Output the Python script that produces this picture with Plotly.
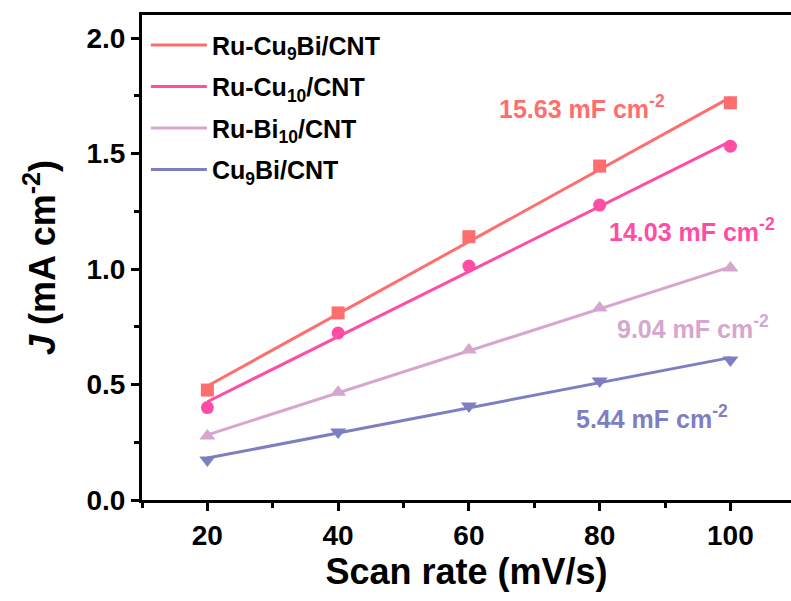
import numpy as np
import plotly.graph_objects as go

scan_rate = [20, 40, 60, 80, 100]
j_rucu9bi = [0.476, 0.81, 1.14, 1.446, 1.72]
j_rucu10 = [0.40, 0.723, 1.013, 1.277, 1.532]
j_rubi10 = [0.277, 0.467, 0.649, 0.831, 1.004]
j_cu9bi = [0.173, 0.294, 0.407, 0.515, 0.606]

names = ["Ru-Cu<sub>9</sub>Bi/CNT", "Ru-Cu<sub>10</sub>/CNT", "Ru-Bi<sub>10</sub>/CNT", "Cu<sub>9</sub>Bi/CNT"]
colors = ["#FF6E6E", "#FF4DA6", "#D6A6CF", "#7E7EC2"]
symbols = ["square", "circle", "triangle-up", "triangle-down"]
cdl_labels = ["15.63 mF cm<sup>-2</sup>", "14.03 mF cm<sup>-2</sup>", "9.04 mF cm<sup>-2</sup>", "5.44 mF cm<sup>-2</sup>"]
label_x = [77.3, 94.1, 94.3, 88.0]
label_y = [1.70, 1.17, 0.75, 0.36]

series = [j_rucu9bi, j_rucu10, j_rubi10, j_cu9bi]
FONT = "Liberation Sans, Arial, sans-serif"

fig = go.Figure()
x = np.array(scan_rate, dtype=float)
for i, ys in enumerate(series):
    k, b = np.polyfit(x, np.array(ys), 1)
    xf = np.array([x.min(), x.max()])
    fig.add_trace(go.Scatter(x=xf, y=k * xf + b, mode="lines", name=names[i],
                             line=dict(color=colors[i], width=3), legendgroup=str(i)))
    fig.add_trace(go.Scatter(x=scan_rate, y=ys, mode="markers", showlegend=False,
                             marker=dict(color=colors[i], symbol=symbols[i], size=13 if i < 2 else 14,
                                         line=dict(width=0))))

for i in range(4):
    fig.add_annotation(x=label_x[i], y=label_y[i], text=cdl_labels[i], showarrow=False,
                       font=dict(family=FONT, size=25, color=colors[i], weight="bold"),
                       xanchor="center", yanchor="middle")

axis_common = dict(showline=True, linecolor="black", linewidth=3, ticks="outside",
                   tickwidth=3, ticklen=8, tickcolor="black", showgrid=False, zeroline=False,
                   tickfont=dict(family=FONT, size=28, color="black", weight="bold"))

fig.update_xaxes(range=[10, 109.27], dtick=20, tick0=0, mirror=True,
                 minor=dict(dtick=10, tick0=0, ticks="outside", ticklen=5, tickwidth=3, tickcolor="black"),
                 title=dict(text="Scan rate (mV/s)", standoff=6,
                            font=dict(family=FONT, size=36, color="black", weight="bold")),
                 **axis_common)
fig.update_yaxes(range=[0, 2.1], dtick=0.5, tick0=0, tickformat=".1f",
                 minor=dict(dtick=0.25, tick0=0, ticks="outside", ticklen=5, tickwidth=3, tickcolor="black"),
                 title=dict(text="<i>J</i> (mA cm<sup>-2</sup>)", standoff=20,
                            font=dict(family=FONT, size=36, color="black", weight="bold")),
                 **axis_common)

fig.update_layout(
    width=791, height=601,
    margin=dict(l=142, r=0, t=15, b=101),
    plot_bgcolor="white", paper_bgcolor="white",
    legend=dict(x=0.006, y=0.985, xanchor="left", yanchor="top", bgcolor="rgba(0,0,0,0)",
                font=dict(family=FONT, size=25, color="black", weight="bold"),
                itemwidth=56, tracegroupgap=6, traceorder="grouped"),
)

fig.write_html("out.html")
